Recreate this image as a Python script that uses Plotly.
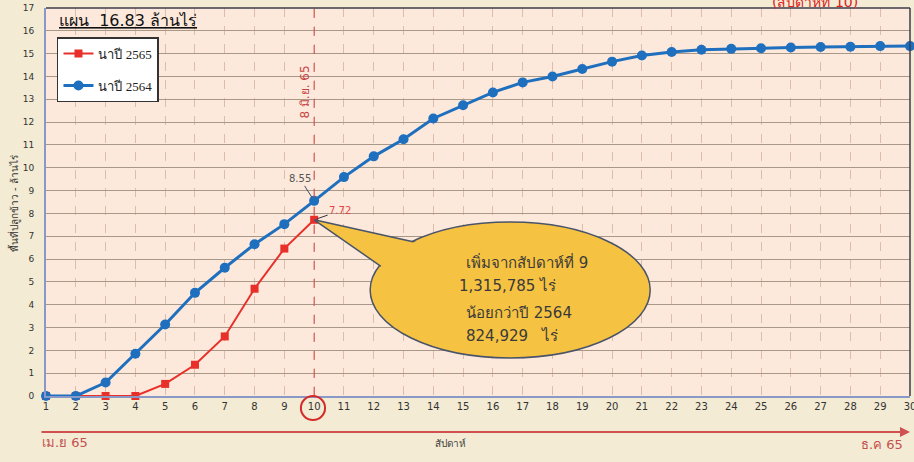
import plotly.graph_objects as go

weeks = list(range(1, 31))
tick_labels = [str(w) for w in weeks]

# area planted, million rai
y2565 = [0, 0, 0, 0, 0.53, 1.37, 2.61, 4.70, 6.46, 7.72]
y2564 = [0, 0, 0.59, 1.85, 3.13, 4.52, 5.62, 6.65, 7.53, 8.55,
         9.59, 10.50, 11.25, 12.16, 12.74, 13.30, 13.74, 14.00, 14.33, 14.65,
         14.92, 15.07, 15.17, 15.21, 15.24, 15.27, 15.29, 15.30, 15.33, 15.33]

RED = "#e8302a"
BLUE = "#1f6fbf"
FONT = "DejaVu Sans"

fig = go.Figure()
fig.add_trace(go.Scatter(
    x=weeks[:len(y2565)], y=y2565, name="นาปี 2565", legendgroup="a",
    mode="lines+markers", line=dict(color=RED, width=2),
    marker=dict(symbol="square", size=8, color=RED),
    cliponaxis=False,
))
fig.add_trace(go.Scatter(
    x=weeks, y=y2564, name="นาปี 2564", legendgroup="b",
    mode="lines+markers", line=dict(color=BLUE, width=3),
    marker=dict(symbol="circle", size=10, color=BLUE),
    cliponaxis=False,
))

# callout bubble: outlined ellipse + outlined pointer, then inner fill hides seams
fig.add_shape(type="circle", xref="x", yref="y", x0=11.88, x1=21.28, y0=1.67, y1=7.62,
              fillcolor="#f6c242", line=dict(color="#4a5468", width=1.5), layer="above")
fig.add_shape(type="path", xref="x", yref="y",
              path="M 10,7.72 L 14.9,6.3 L 13.55,4.49 Z",
              fillcolor="#f6c242", line=dict(color="#4a5468", width=1.5), layer="above")
fig.add_shape(type="circle", xref="x", yref="y", x0=11.93, x1=21.23, y0=1.74, y1=7.55,
              fillcolor="#f6c242", line=dict(width=0), layer="above")

# 8 June marker
fig.add_shape(type="line", xref="x", yref="paper", x0=10, x1=10, y0=0, y1=1,
              line=dict(color="#d04848", width=1, dash="dash"))
# top/right frame
fig.add_shape(type="line", xref="paper", yref="paper", x0=0, x1=1, y0=1, y1=1,
              line=dict(color="#3c3c4c", width=1.5))
fig.add_shape(type="line", xref="paper", yref="paper", x0=1, x1=1, y0=0, y1=1,
              line=dict(color="#3c3c4c", width=1.5))
# circle around week 10 tick
fig.add_shape(type="circle", xref="paper", yref="paper",
              x0=0.295, x1=0.323, y0=-0.062, y1=0.0,
              line=dict(color="#d42a2a", width=2))

callout = ["เพิ่มจากสัปดาห์ที่ 9", "1,315,785 ไร่", "น้อยกว่าปี 2564", "824,929   ไร่"]
callout_x = [17.15, 16.5, 16.88, 16.64]
callout_y = [5.87, 4.8, 3.65, 2.64]
anns = []
for t, cx, cy in zip(callout, callout_x, callout_y):
    anns.append(dict(x=cx, y=cy, xref="x", yref="y", text=t, showarrow=False,
                     xanchor="center",
                     font=dict(family=FONT, size=15, color="#3a3a3a")))

anns += [
    dict(x=0.0127, y=0.969, xref="paper", yref="paper", text="<u>แผน  16.83 ล้านไร่</u>",
         showarrow=False, xanchor="left", yanchor="middle",
         font=dict(family=FONT, size=16, color="#111")),
    dict(x=0.89, y=1.0, xref="paper", yref="paper", text="(สัปดาห์ที่ 10)",
         showarrow=False, xanchor="center", yanchor="bottom", yshift=-4,
         font=dict(family=FONT, size=14, color="#e02020")),
    dict(x=10, y=8.55, xref="x", yref="y", text="8.55", showarrow=True,
         arrowhead=0, arrowwidth=1, arrowcolor="#3a4a6a", ax=-14, ay=-22, standoff=4,
         font=dict(family=FONT, size=10, color="#555")),
    dict(x=10, y=7.72, xref="x", yref="y", text="7.72", showarrow=True,
         arrowhead=0, arrowwidth=1, arrowcolor="#333", ax=26, ay=-9, standoff=3,
         font=dict(family=FONT, size=10, color="#e04848")),
    dict(x=10, y=13.3, xref="x", yref="y", xshift=-9, text="8 มิ.ย. 65", textangle=-90,
         showarrow=False, xanchor="center", font=dict(family=FONT, size=12, color="#c84444")),
    dict(x=1, y=-0.0928, xref="paper", yref="paper", text="", showarrow=True,
         arrowhead=2, arrowsize=1, arrowwidth=2, arrowcolor="#d05050",
         ax=-870, ay=0),
    dict(x=-0.007, y=-0.121, xref="paper", yref="paper", text="เม.ย 65",
         showarrow=False, xanchor="left", yanchor="middle",
         font=dict(family=FONT, size=13, color="#c45050")),
    dict(x=0.994, y=-0.126, xref="paper", yref="paper", text="ธ.ค 65",
         showarrow=False, xanchor="right", yanchor="middle",
         font=dict(family=FONT, size=13, color="#c45050")),
    dict(x=0.4676, y=-0.1418, xref="paper", yref="paper", text="สัปดาห์",
         showarrow=False, xanchor="center",
         font=dict(family=FONT, size=10, color="#444")),
    dict(x=-0.037, y=0.497, xref="paper", yref="paper", text="พื้นที่ปลูกข้าว - ล้านไร่",
         textangle=-90, showarrow=False, xanchor="center", yanchor="middle",
         font=dict(family=FONT, size=10, color="#333")),
]

fig.update_layout(
    width=914, height=462,
    margin=dict(l=46, r=4, t=8, b=66),
    paper_bgcolor="#f3ebd3",
    plot_bgcolor="#fde9db",
    font=dict(family=FONT, size=10, color="#333"),
    showlegend=True,
    legend=dict(x=0.0127, y=0.925, xanchor="left", yanchor="top",
                bgcolor="white", bordercolor="#333", borderwidth=1.5,
                font=dict(family="Liberation Serif", size=13, color="#222"),
                traceorder="grouped", tracegroupgap=12, itemwidth=30),
    annotations=anns,
    xaxis=dict(range=[1, 30], tickmode="array", tickvals=weeks, ticktext=tick_labels,
               showgrid=True, gridcolor="#dcbcaa", griddash="dash", gridwidth=1,
               showline=True, linecolor="#8a98c8", linewidth=2, automargin=False,
               ticklabeloverflow="allow",
               ticks="", tickfont=dict(size=10, color="#333"), zeroline=False),
    yaxis=dict(range=[0, 17], dtick=1, showgrid=True, gridcolor="#a89888", gridwidth=1,
               showline=True, linecolor="#8a98c8", linewidth=2, automargin=False,
               ticks="", ticklabelstandoff=8, tickfont=dict(size=9, color="#333"),
               zeroline=False),
)

# drop the default 8px page margin so the figure fills the window
fig.write_html("out.html", config={"displayModeBar": False},
               post_script="document.body.style.margin='0';")
